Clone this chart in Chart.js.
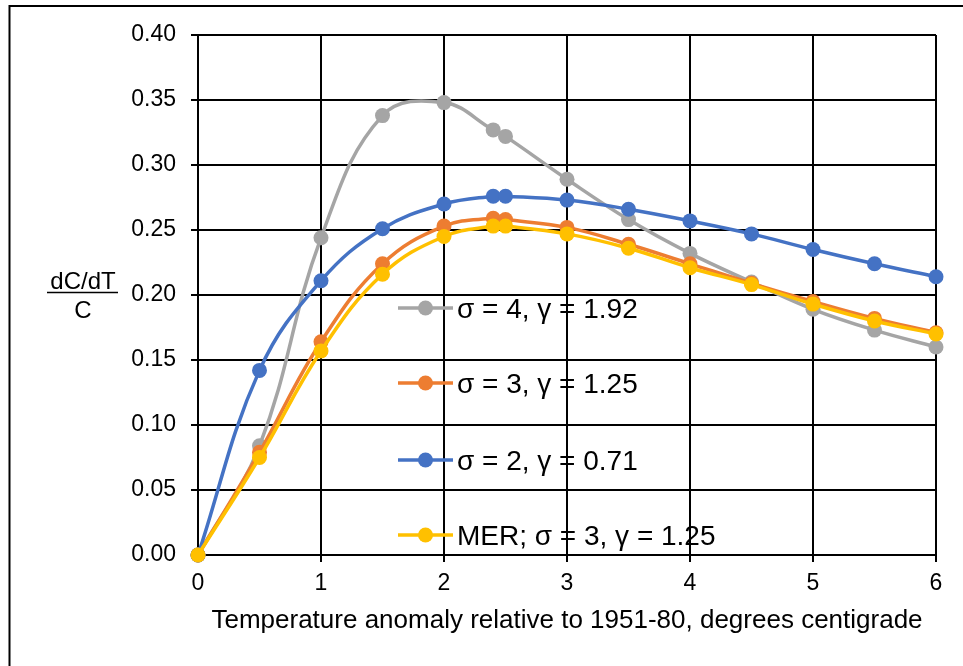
<!DOCTYPE html>
<html>
<head>
<meta charset="utf-8">
<script src="https://cdn.jsdelivr.net/npm/chart.js@4.4.1/dist/chart.umd.min.js"></script>
<style>
  html, body { margin: 0; padding: 0; background: #fff; }
  #wrap { width: 963px; height: 666px; }
</style>
</head>
<body>
<div id="wrap"><canvas id="myChart" width="963" height="666"></canvas></div>
<script>
// temperature anomaly (deg C) where each curve was sampled
var temps = [0, 0.5, 1, 1.5, 2, 2.4, 2.5, 3, 3.5, 4, 4.5, 5, 5.5, 6];

// dC/dT / C for each case
var sigma4 = [0, 0.084, 0.244, 0.338, 0.348, 0.327, 0.322, 0.289, 0.258, 0.232, 0.210, 0.189, 0.173, 0.160];
var sigma3 = [0, 0.079, 0.164, 0.224, 0.253, 0.259, 0.258, 0.252, 0.239, 0.224, 0.209, 0.195, 0.182, 0.171];
var sigma2 = [0, 0.142, 0.211, 0.251, 0.270, 0.276, 0.276, 0.273, 0.266, 0.257, 0.247, 0.235, 0.224, 0.214];
var merS3 = [0, 0.075, 0.157, 0.216, 0.245, 0.253, 0.253, 0.247, 0.236, 0.221, 0.208, 0.193, 0.180, 0.170];

var seriesNames = ["σ = 4, γ = 1.92", "σ = 3, γ = 1.25", "σ = 2, γ = 0.71", "MER; σ = 3, γ = 1.25"];
var seriesColors = ["#A5A5A5", "#ED7D31", "#4472C4", "#FFC000"];

var xTitle = "Temperature anomaly relative to 1951-80, degrees centigrade";
var yTitleTop = "dC/dT";
var yTitleBottom = "C";

var FONT = '"Liberation Sans", Arial, sans-serif';

function toPoints(ys) {
  return temps.map(function (t, i) { return { x: t, y: ys[i] }; });
}

function makeSet(i, ys) {
  return {
    label: seriesNames[i],
    data: toPoints(ys),
    borderColor: seriesColors[i],
    backgroundColor: seriesColors[i],
    pointBackgroundColor: seriesColors[i],
    pointBorderColor: seriesColors[i],
    borderWidth: 3.5,
    pointRadius: 7.5,
    pointBorderWidth: 0,
    tension: 0.4,
    clip: false,
    order: 4 - i
  };
}

// frame, legend and stacked y title drawn by hand
var extras = {
  id: 'extras',
  beforeDraw: function (chart) {
    var c = chart.ctx;
    c.save();
    c.fillStyle = '#fff';
    c.fillRect(0, 0, chart.width, chart.height);
    c.strokeStyle = '#000';
    c.lineWidth = 2;
    c.strokeRect(9.5, 6, 1200, 1200);
    c.restore();
  },
  afterDatasetsDraw: function (chart) {
    var c = chart.ctx;
    c.save();
    // legend
    var rows = [308, 383, 460, 535];
    c.font = '28px ' + FONT;
    c.textBaseline = 'alphabetic';
    c.textAlign = 'left';
    for (var i = 0; i < seriesNames.length; i++) {
      var y = rows[i];
      c.strokeStyle = seriesColors[i];
      c.lineWidth = 3.5;
      c.beginPath();
      c.moveTo(398, y);
      c.lineTo(453, y);
      c.stroke();
      c.fillStyle = seriesColors[i];
      c.beginPath();
      c.arc(425.5, y, 7.5, 0, Math.PI * 2);
      c.fill();
      c.fillStyle = '#000';
      c.fillText(seriesNames[i], 457, y + 10);
    }
    // y title as a fraction
    c.font = '24px ' + FONT;
    c.textAlign = 'center';
    c.fillStyle = '#000';
    c.fillText(yTitleTop, 83, 289);
    c.fillText(yTitleBottom, 83, 318);
    c.strokeStyle = '#000';
    c.lineWidth = 1.5;
    c.beginPath();
    c.moveTo(47, 292.5);
    c.lineTo(118, 292.5);
    c.stroke();
    c.restore();
  }
};

var ctx = document.getElementById('myChart');

var chart = new Chart(ctx, {
  type: 'line',
  data: {
    datasets: [
      makeSet(0, sigma4),
      makeSet(1, sigma3),
      makeSet(2, sigma2),
      makeSet(3, merS3)
    ]
  },
  options: {
    responsive: false,
    animation: false,
    layout: { padding: { left: 0, top: 35, right: 27, bottom: 0 } },
    plugins: {
      legend: { display: false },
      tooltip: { enabled: false }
    },
    scales: {
      x: {
        type: 'linear',
        min: 0,
        max: 6,
        afterFit: function (s) { s.height = 111; },
        ticks: {
          stepSize: 1,
          color: '#000',
          padding: 8,
          maxRotation: 0,
          font: { family: FONT, size: 23 }
        },
        grid: { color: '#000', lineWidth: 2, tickLength: 7 },
        border: { color: '#000', width: 2 },
        title: {
          display: true,
          text: xTitle,
          color: '#000',
          padding: { top: 0, bottom: 30 },
          font: { family: FONT, size: 26 }
        }
      },
      y: {
        min: 0,
        max: 0.4,
        afterFit: function (s) { s.width = 198; },
        ticks: {
          stepSize: 0.05,
          color: '#000',
          padding: 15,
          font: { family: FONT, size: 23 },
          callback: function (v) { return v.toFixed(2); }
        },
        grid: { color: '#000', lineWidth: 2, tickLength: 7 },
        border: { color: '#000', width: 2 }
      }
    }
  },
  plugins: [extras]
});
</script>
</body>
</html>
